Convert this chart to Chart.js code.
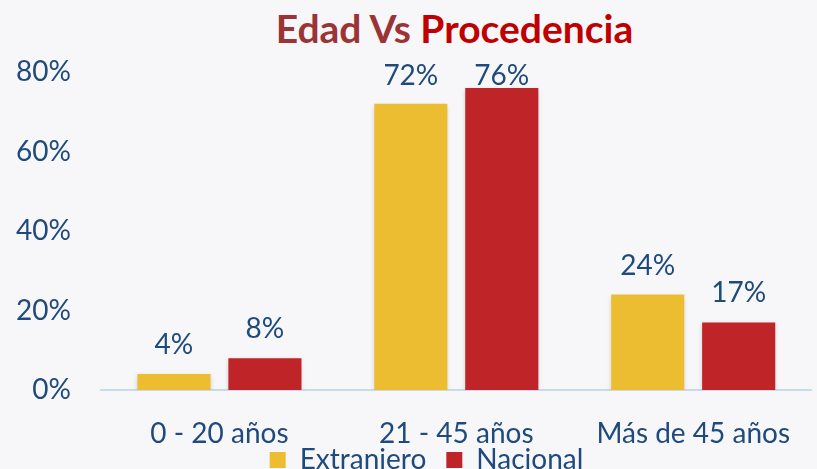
<!DOCTYPE html>
<html>
<head>
<meta charset="utf-8">
<script src="https://cdn.jsdelivr.net/npm/chart.js@4.4.1/dist/chart.umd.min.js"></script>
<style>
  html, body { margin: 0; padding: 0; background: #f7f7fa; }
  #wrap { position: relative; width: 817px; height: 469px; overflow: hidden; }
  #title {
    position: absolute; left: 0; right: 0; top: 0; margin: 0;
    padding-left: 92px; text-align: center;
    font: bold 39px Lato, sans-serif; line-height: 56px;
  }
  #title .a { color: #9b3435; }
  #title .b { color: #c00000; }
  canvas { position: absolute; left: 0; top: 0; }
</style>
</head>
<body>
<div id="wrap">
  <h1 id="title"><span class="a">Edad Vs </span><span class="b">Procedencia</span></h1>
  <canvas id="chart" width="817" height="469"></canvas>
</div>
<script>
// Data
const categories = ['0 - 20 años', '21 - 45 años', 'Más de 45 años'];
const extranjero = [4, 72, 24];
const nacional = [8, 76, 17];
const yTicks = [0, 20, 40, 60, 80];

const colors = {
    text: '#1f4a7c',
    yellow: '#edbd31',
    red: '#bf2428',
    axis: '#c9daee'
};

const font = { family: "Lato, sans-serif", size: 28 };

// value labels above the bars (kept inside the plot area at the top)
const valueLabels = {
    id: 'valueLabels',
    afterDatasetsDraw(chart) {
        const ctx = chart.ctx;
        const minY = chart.chartArea.top + 13;
        ctx.save();
        ctx.font = `${font.size}px ${font.family}`;
        ctx.fillStyle = colors.text;
        ctx.textAlign = 'center';
        ctx.textBaseline = 'alphabetic';
        chart.data.datasets.forEach((ds, i) => {
            chart.getDatasetMeta(i).data.forEach((bar, j) => {
                ctx.fillText(ds.data[j] + '%', bar.x, Math.max(bar.y - 20, minY));
            });
        });
        ctx.restore();
    }
};

// soft shadow under the bars
const barShadow = {
    id: 'barShadow',
    beforeDatasetsDraw(chart) {
        const ctx = chart.ctx;
        ctx.save();
        ctx.shadowColor = 'rgba(0,0,0,0.18)';
        ctx.shadowBlur = 5;
        ctx.shadowOffsetY = 2;
    },
    afterDatasetsDraw(chart) {
        chart.ctx.restore();
    }
};

// move the legend up closer to the axis labels, and a bit right
const legendNudge = {
    id: 'legendNudge',
    afterLayout(chart) {
        const lg = chart.legend;
        const dy = -20, dx = 18;
        lg.top += dy; lg.bottom += dy;
        lg.left += dx; lg.right += dx;
        (lg.legendHitBoxes || []).forEach(h => { h.top += dy; h.left += dx; });
    }
};

new Chart(document.getElementById('chart'), {
    type: 'bar',
    data: {
        labels: categories,
        datasets: [
            { label: 'Extranjero', data: extranjero, backgroundColor: colors.yellow },
            { label: 'Nacional', data: nacional, backgroundColor: colors.red }
        ]
    },
    options: {
        responsive: false,
        animation: false,
        layout: { padding: { top: 72, right: 0, left: 0, bottom: -35 } },
        datasets: {
            bar: { categoryPercentage: 0.768, barPercentage: 0.804 }
        },
        plugins: {
            legend: {
                position: 'bottom',
                labels: {
                    color: colors.text,
                    font: font,
                    boxWidth: 16,
                    boxHeight: 16,
                    padding: 20
                }
            },
            tooltip: { enabled: false }
        },
        scales: {
            x: {
                grid: { display: false, drawTicks: false },
                border: { color: colors.axis, width: 2 },
                ticks: { color: colors.text, font: font, padding: 27, maxRotation: 0 },
                afterFit(scale) { scale.height = 56; }
            },
            y: {
                min: 0,
                max: 80,
                afterBuildTicks(scale) { scale.ticks = yTicks.map(v => ({ value: v })); },
                grid: { display: false, drawTicks: false },
                border: { display: false },
                ticks: {
                    color: colors.text,
                    font: font,
                    padding: 30,
                    callback: v => v + '%'
                },
                afterFit(scale) { scale.width = 101; }
            }
        }
    },
    plugins: [barShadow, valueLabels, legendNudge]
});
</script>
</body>
</html>
